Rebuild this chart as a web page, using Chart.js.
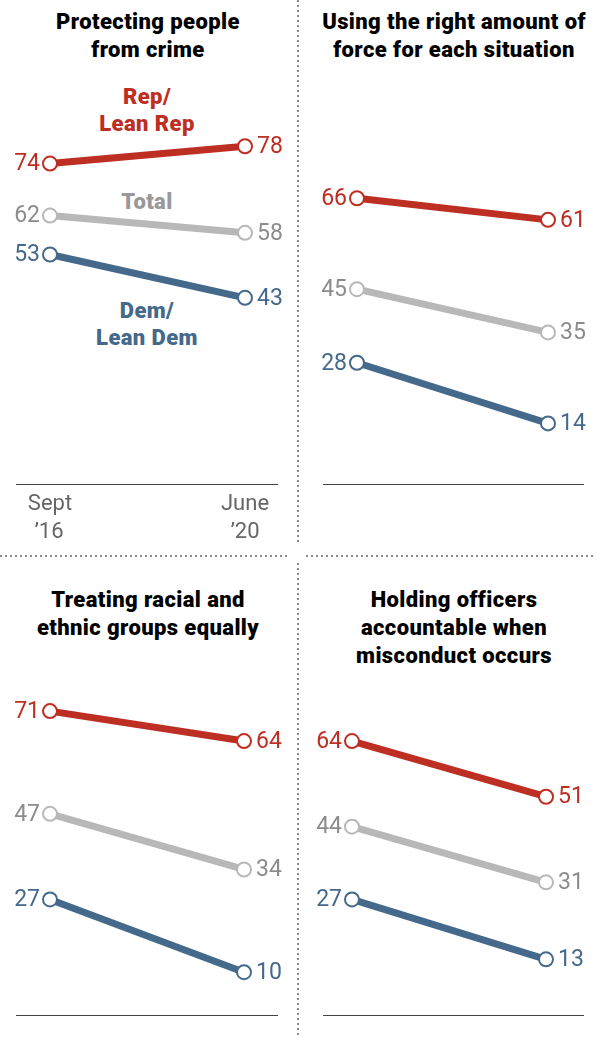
<!DOCTYPE html>
<html lang="en">
<head>
<meta charset="utf-8"/>
<title>Views of police performance by party</title>
<script src="https://cdn.jsdelivr.net/npm/chart.js"></script>
<style>
  body{margin:0;background:#fff;font-family:Roboto,"Liberation Sans",Arial,sans-serif}
  #page{position:relative;width:596px;height:1037px;overflow:hidden}
  .title{position:absolute;width:296px;text-align:center;font-weight:900;font-size:22px;letter-spacing:0.4px;line-height:28px;color:#000}
  .slabel{position:absolute;width:200px;text-align:center;font-weight:900;font-size:22px;letter-spacing:0.4px;line-height:27px}
  .vdots{position:absolute;width:2px;background:repeating-linear-gradient(to bottom,#8a8a8a 0 2px,transparent 2px 5px)}
  .hdots{position:absolute;height:2px;background:repeating-linear-gradient(to right,#8a8a8a 0 2px,transparent 2px 5px)}
  canvas{position:absolute}
</style>
</head>
<body>
<div id="page">
  <div class="vdots" style="left:297px;top:0;height:545px"></div>
  <div class="vdots" style="left:297px;top:563px;height:474px"></div>
  <div class="hdots" style="left:0;top:555px;width:290px"></div>
  <div class="hdots" style="left:306px;top:555px;width:290px"></div>

  <div class="title" style="left:0;top:8px">Protecting people<br>from crime</div>
  <div class="title" style="left:306px;top:8px">Using the right amount of<br>force for each situation</div>
  <div class="title" style="left:0;top:586px">Treating racial and<br>ethnic groups equally</div>
  <div class="title" style="left:306px;top:586px">Holding officers<br>accountable when<br>misconduct occurs</div>

  <div class="slabel" style="left:47px;top:83px;color:#bd2e23">Rep/<br>Lean Rep</div>
  <div class="slabel" style="left:47px;top:188px;color:#999">Total</div>
  <div class="slabel" style="left:47px;top:297px;color:#44698b">Dem/<br>Lean Dem</div>

  <canvas id="c0" width="298" height="550" style="left:0;top:0"></canvas>
  <canvas id="c1" width="296" height="550" style="left:300px;top:0"></canvas>
  <canvas id="c2" width="298" height="477" style="left:0;top:560px"></canvas>
  <canvas id="c3" width="296" height="477" style="left:300px;top:560px"></canvas>
</div>

<script>
// data
const periods=[['Sept','\u201916'],['June','\u201920']];
const seriesNames=['Rep/Lean Rep','Total','Dem/Lean Dem'];
const repValues=[[74,78],[66,61],[71,64],[64,51]];
const totalValues=[[62,58],[45,35],[47,34],[44,31]];
const demValues=[[53,43],[28,14],[27,10],[27,13]];

const lineColors=['#bd2e23','#b8b8b8','#44698b'];
const labelColors=['#bd2e23','#8c8c8c','#44698b'];

// page geometry of each panel (canvas box, plot area, point columns)
const panels=[
  {id:'c0',cx:0,  cy:0,  w:298,h:550,L:16, R:278,T:51, B:484, p0:50, p1:245,ticks:true},
  {id:'c1',cx:300,cy:0,  w:296,h:550,L:323,R:584,T:51, B:484, p0:357,p1:548,ticks:false},
  {id:'c2',cx:0,  cy:560,w:298,h:477,L:16, R:278,T:587,B:1015,p0:50, p1:244,ticks:false},
  {id:'c3',cx:300,cy:560,w:296,h:477,L:323,R:584,T:587,B:1015,p0:352,p1:546,ticks:false}
];

const decor={
  id:'decor',
  afterDatasetsDraw(chart,args,opts){
    const {ctx,chartArea,scales:{x,y}}=chart;
    ctx.save();
    // baseline
    ctx.strokeStyle='#444';ctx.lineWidth=1.2;
    const y0=Math.round(y.getPixelForValue(0))+0.5;
    ctx.beginPath();ctx.moveTo(chartArea.left,y0);ctx.lineTo(chartArea.right,y0);ctx.stroke();
    // value labels
    ctx.font='23px Roboto, "Liberation Sans", Arial, sans-serif';
    ctx.textBaseline='middle';
    chart.data.datasets.forEach((ds,i)=>{
      ds.data.forEach(d=>{
        const px=x.getPixelForValue(d.x),py=y.getPixelForValue(d.y);
        ctx.fillStyle=labelColors[i];
        ctx.textAlign=d.x===0?'right':'left';
        ctx.fillText(String(d.y),d.x===0?px-10:px+12,py+1);
      });
    });
    // period labels
    if(opts.ticks){
      ctx.fillStyle='#666';ctx.font='22px Roboto, "Liberation Sans", Arial, sans-serif';
      ctx.textAlign='center';
      periods.forEach((p,j)=>{
        const px=x.getPixelForValue(j);
        ctx.fillText(p[0],px,y0+20);
        ctx.fillText(p[1],px+(j===0?-1:0),y0+48);
      });
    }
    ctx.restore();
  }
};

const allSeries=[repValues,totalValues,demValues];
panels.forEach((p,k)=>{
  const u=p.p1-p.p0;
  const padL=p.L-p.cx,padR=p.cx+p.w-p.R,padT=p.T-p.cy,padB=p.cy+p.h-p.B;
  new Chart(document.getElementById(p.id),{
    type:'line',
    data:{
      datasets:allSeries.map((s,i)=>({
        label:seriesNames[i],
        data:s[k].map((v,j)=>({x:j,y:v})),
        borderColor:lineColors[i],
        borderWidth:7,
        pointRadius:7,
        pointBorderWidth:2,
        pointBackgroundColor:'#fff',
        pointBorderColor:lineColors[i],
        clip:false,
        order:i
      }))
    },
    options:{
      responsive:false,
      animation:false,
      layout:{padding:{left:padL,right:padR,top:padT,bottom:padB}},
      scales:{
        x:{type:'linear',display:false,min:-(p.p0-p.L)/u,max:1+(p.R-p.p1)/u},
        y:{display:false,min:0,max:100}
      },
      plugins:{legend:{display:false},tooltip:{enabled:false},decor:{ticks:p.ticks}}
    },
    plugins:[decor]
  });
});
</script>
</body>
</html>
